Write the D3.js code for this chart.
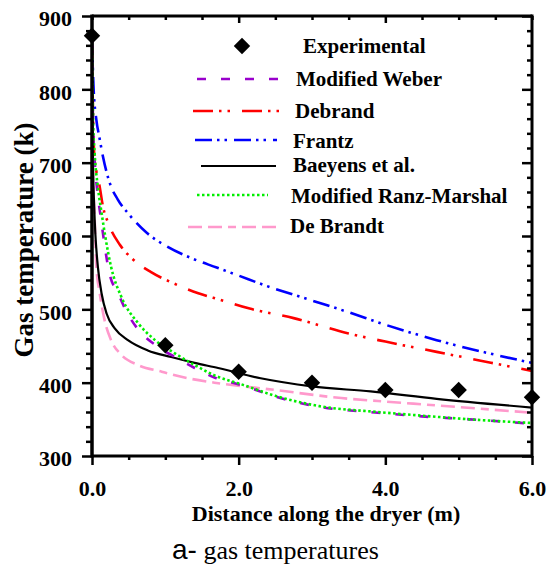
<!DOCTYPE html>
<html>
<head>
<meta charset="utf-8">
<script src="https://cdn.jsdelivr.net/npm/d3@7"></script>
<style>
  html, body { margin: 0; padding: 0; background: #fff; }
  svg { display: block; }
</style>
</head>
<body>
<svg id="chart" width="547" height="566"></svg>
<script>
// ---------- data ----------
const xTickValues = [0, 0.5, 1, 1.5, 2, 2.5, 3, 3.5, 4, 4.5, 5, 5.5, 6];
const xMajorTicks = [0, 2, 4, 6];
const xTickLabels = ["0.0", "2.0", "4.0", "6.0"];
const yTickValues = [300,320,340,360,380,400,420,440,460,480,500,520,540,560,580,600,620,640,660,680,700,720,740,760,780,800,820,840,860,880,900];
const yMajorTicks = [300, 400, 500, 600, 700, 800, 900];

const experimentalX = [0, 1, 2, 3, 4, 5, 6];
const experimentalY = [873, 451, 415, 400, 390, 390, 380];

const weberX = [0, 0.015, 0.035, 0.08, 0.12, 0.24, 0.355, 0.47, 0.65, 0.9, 1.13, 1.4, 1.67, 2.06, 2.5, 3.1, 3.9, 4.5, 5.15, 6.0];
const weberY = [870, 750, 705, 655, 625, 548, 522, 497, 470, 449, 435, 420, 407, 396, 381, 367, 359, 354, 350, 344];

const debrandX = [0, 0.01, 0.03, 0.06, 0.1, 0.15, 0.22, 0.38, 0.55, 0.8, 1.1, 1.45, 1.75, 2.15, 2.75, 3.5, 4.0, 4.7, 5.3, 6.0];
const debrandY = [870, 790, 712, 688, 670, 640, 618, 588, 569, 551, 536, 522, 513, 501, 488, 467, 456, 442, 430, 416];

const frantzX = [0, 0.02, 0.06, 0.1, 0.15, 0.25, 0.35, 0.5, 0.75, 1.0, 1.35, 1.7, 2.0, 2.35, 3.0, 3.5, 4.0, 4.7, 5.0, 5.5, 6.0];
const frantzY = [870, 805, 758, 735, 708, 670, 650, 630, 604, 587, 570, 557, 546, 533, 512, 496, 479, 458, 450, 438, 427];

const baeyensX = [0, 0.01, 0.03, 0.045, 0.06, 0.08, 0.13, 0.2, 0.31, 0.49, 0.76, 1.08, 1.4, 1.72, 2.3, 3.0, 3.8, 4.7, 6.0];
const baeyensY = [870, 720, 640, 604, 581, 558, 522, 494, 474, 458, 444, 435, 427, 420, 406, 395, 388, 378, 366];

const ranzX = [0, 0.015, 0.036, 0.08, 0.13, 0.18, 0.26, 0.4, 0.63, 0.86, 1.13, 1.4, 1.67, 2.06, 2.5, 3.1, 3.9, 4.5, 5.15, 6.0];
const ranzY = [870, 758, 713, 667, 632, 600, 558, 517, 481, 458, 440, 424, 410, 397, 382, 368, 360, 355, 350, 345];

const deBrandtX = [0, 0.01, 0.036, 0.06, 0.105, 0.17, 0.26, 0.4, 0.63, 0.95, 1.31, 1.67, 2.5, 3.4, 3.9, 4.7, 6.0];
const deBrandtY = [870, 700, 626, 558, 522, 486, 458, 438, 424, 415, 406, 400, 390, 379, 375, 369, 359];

const seriesNames = ["Modified Weber", "Debrand", "Frantz", "Baeyens et al.", "Modified Ranz-Marshal", "De Brandt"];

// ---------- styles ----------
const seriesStyles = [
  { color: "#9900cc", width: 2.6, dash: "9,15" },
  { color: "#ff0000", width: 2.6, dash: "20,6,2.5,6,2.5,12" },
  { color: "#0000ff", width: 2.6, dash: "17,5,2.5,5,2.5,7" },
  { color: "#000000", width: 2.2, dash: null },
  { color: "#00ee00", width: 2.6, dash: "2.5,2.5" },
  { color: "#ff99cc", width: 2.6, dash: "14,6,14,6,8,6" }
];
const seriesX = [weberX, debrandX, frantzX, baeyensX, ranzX, deBrandtX];
const seriesY = [weberY, debrandY, frantzY, baeyensY, ranzY, deBrandtY];

const L = 92, R = 532, T = 16, B = 456;
const svg = d3.select("#chart");
svg.append("rect").attr("width", 547).attr("height", 566).attr("fill", "#fff");

const x = d3.scaleLinear().domain([0, 6]).range([L, R]);
const y = d3.scaleLinear().domain([300, 900]).range([B, T]);

const serif = "'Liberation Serif', 'Times New Roman', serif";

svg.append("defs").append("clipPath").attr("id", "plotclip")
  .append("rect").attr("x", L).attr("y", T - 2).attr("width", R - L).attr("height", B - T + 2);

// ---------- curves ----------
const line = d3.line().x(d => x(d[0])).y(d => y(d[1])).curve(d3.curveMonotoneX);
const gLines = svg.append("g").attr("clip-path", "url(#plotclip)");
const order = [5, 2, 1, 3, 0, 4];
order.forEach(i => {
  const pts = seriesX[i].map((v, k) => [v, seriesY[i][k]]);
  const st = seriesStyles[i];
  gLines.append("path")
    .attr("d", line(pts))
    .attr("fill", "none")
    .attr("stroke", st.color)
    .attr("stroke-width", st.width)
    .attr("stroke-dasharray", st.dash)
    .attr("stroke-linejoin", "round");
});

// ---------- axes ----------
function styleTicks(g, majors, minorLen, majorLen, sign) {
  g.select(".domain").remove();
  g.selectAll(".tick line")
    .attr("stroke", "#000").attr("stroke-width", 2.5);
  g.selectAll(".tick").each(function(d) {
    const isMajor = majors.some(m => Math.abs(m - d) < 1e-9);
    const ln = d3.select(this).select("line");
    if (ln.attr("x2") !== null && +ln.attr("x2") !== 0) ln.attr("x2", sign * (isMajor ? majorLen : minorLen));
    if (ln.attr("y2") !== null && +ln.attr("y2") !== 0) ln.attr("y2", sign * (isMajor ? majorLen : minorLen));
  });
}

const gBottom = svg.append("g").attr("transform", `translate(0,${B})`)
  .call(d3.axisBottom(x).tickValues(xTickValues).tickSize(4)
    .tickFormat(d => { const i = xMajorTicks.indexOf(d); return i >= 0 ? xTickLabels[i] : ""; }));
styleTicks(gBottom, xMajorTicks, 4, 9, 1);
gBottom.selectAll(".tick text")
  .attr("y", 40).attr("dy", 0)
  .attr("font-family", serif).attr("font-weight", "bold").attr("font-size", 22).attr("fill", "#000");

const gTop = svg.append("g").attr("transform", `translate(0,${T})`)
  .call(d3.axisTop(x).tickValues(xTickValues).tickSize(-4).tickFormat(""));
styleTicks(gTop, [2, 4], 4, 7, 1);

const gLeft = svg.append("g").attr("transform", `translate(${L},0)`)
  .call(d3.axisLeft(y).tickValues(yTickValues).tickSize(6).tickPadding(14)
    .tickFormat(d => yMajorTicks.includes(d) ? String(d) : ""));
styleTicks(gLeft, yMajorTicks, 6, 10, -1);
gLeft.selectAll(".tick text")
  .attr("dy", "0.44em")
  .attr("font-family", serif).attr("font-weight", "bold").attr("font-size", 22).attr("fill", "#000");

const gRight = svg.append("g").attr("transform", `translate(${R},0)`)
  .call(d3.axisRight(y).tickValues(yTickValues).tickSize(-5).tickFormat(""));
styleTicks(gRight, yMajorTicks, 5, 10, -1);

// frame
svg.append("line").attr("x1", L).attr("x2", R).attr("y1", T).attr("y2", T).attr("stroke", "#000").attr("stroke-width", 3);
svg.append("line").attr("x1", L).attr("x2", R).attr("y1", B).attr("y2", B).attr("stroke", "#000").attr("stroke-width", 3);
svg.append("line").attr("x1", L).attr("x2", L).attr("y1", T - 1.5).attr("y2", B + 1.5).attr("stroke", "#000").attr("stroke-width", 3.5);
svg.append("line").attr("x1", R).attr("x2", R).attr("y1", T - 1.5).attr("y2", B + 1.5).attr("stroke", "#000").attr("stroke-width", 3);

// ---------- experimental points ----------
const diamond = d3.symbol().type(d3.symbolSquare).size(135);
svg.append("g").selectAll("path")
  .data(experimentalX.map((v, i) => [v, experimentalY[i]]))
  .join("path")
  .attr("d", diamond)
  .attr("transform", d => `translate(${x(d[0])},${y(d[1])}) rotate(45)`)
  .attr("fill", "#000");

// ---------- axis titles ----------
svg.append("text")
  .attr("x", 326).attr("y", 521)
  .attr("text-anchor", "middle")
  .attr("font-family", serif).attr("font-weight", "bold").attr("font-size", 22)
  .text("Distance along the dryer (m)");

svg.append("text")
  .attr("transform", "translate(33,240) rotate(-90)")
  .attr("text-anchor", "middle")
  .attr("font-family", serif).attr("font-weight", "bold").attr("font-size", 27)
  .text("Gas temperature (k)");

// caption
const cap = svg.append("text").attr("x", 172).attr("y", 559).attr("fill", "#000");
cap.append("tspan").attr("font-family", "'Liberation Sans', Arial, sans-serif").attr("font-size", 28).text("a-");
cap.append("tspan").attr("font-family", serif).attr("font-size", 26).text(" gas temperatures");

// ---------- legend ----------
const legendRows = [
  { y: 79, x1: 197, x2: 280, tx: 296, ty: 86 },
  { y: 111, x1: 193, x2: 283, tx: 295, ty: 118 },
  { y: 140, x1: 195, x2: 277, tx: 293, ty: 148 },
  { y: 166, x1: 201, x2: 276, tx: 293, ty: 172 },
  { y: 195, x1: 197, x2: 268, tx: 291, ty: 203 },
  { y: 227, x1: 188, x2: 281, tx: 290, ty: 233 }
];
const gLeg = svg.append("g");
gLeg.append("path").attr("d", diamond).attr("transform", "translate(242,46) rotate(45)").attr("fill", "#000");
gLeg.append("text").attr("x", 303).attr("y", 53)
  .attr("font-family", serif).attr("font-weight", "bold").attr("font-size", 21).text("Experimental");
seriesNames.forEach((name, i) => {
  const r = legendRows[i], st = seriesStyles[i];
  gLeg.append("line").attr("x1", r.x1).attr("x2", r.x2).attr("y1", r.y).attr("y2", r.y)
    .attr("stroke", st.color).attr("stroke-width", st.width).attr("stroke-dasharray", st.dash);
  gLeg.append("text").attr("x", r.tx).attr("y", r.ty)
    .attr("font-family", serif).attr("font-weight", "bold").attr("font-size", 21).text(name);
});
</script>
</body>
</html>
